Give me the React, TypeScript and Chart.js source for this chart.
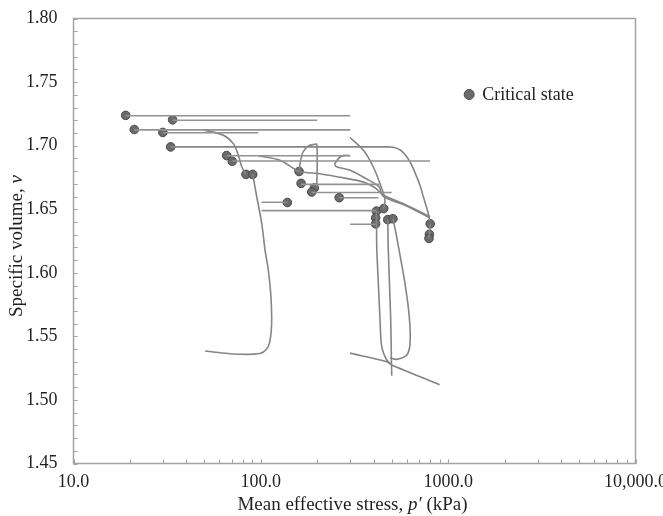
import { useEffect, useRef } from "react";
import { Chart, registerables } from "chart.js";

Chart.register(...registerables);

type Pt = [number, number];

// Critical-state points: mean effective stress p' (kPa) and specific volume v
const criticalP = [19.0, 33.8, 21.1, 30.0, 33.0, 65.7, 70.4, 83.3, 90.5, 160, 164, 193, 187, 138.5, 262, 414, 453, 410, 410, 476, 507, 802, 794, 790];
const criticalV = [1.7238, 1.7203, 1.7127, 1.7104, 1.6990, 1.6922, 1.6877, 1.6774, 1.6774, 1.6797, 1.6703, 1.6667, 1.6635, 1.6553, 1.6591, 1.6485, 1.6505, 1.6432, 1.6385, 1.6418, 1.6425, 1.6385, 1.6303, 1.6270];

// Stress paths (p' kPa, v)
const pathA: Pt[] = [[19.0, 1.7235], [300, 1.7235]];
const pathB: Pt[] = [[33.8, 1.7200], [200, 1.7200]];
const pathC: Pt[] = [[21.1, 1.7124], [300, 1.7124]];
const pathD: Pt[] = [[30.0, 1.7101], [97, 1.7101]];
const pathE: Pt[] = [[33.0, 1.6990], [470, 1.6990], [510, 1.6987], [560, 1.6962], [601, 1.6912], [640, 1.6845], [679, 1.6756], [710, 1.6680], [737, 1.6598], [765, 1.6520], [783, 1.6468], [800, 1.6410]];
const pathF: Pt[] = [[65.7, 1.6920], [300, 1.6920]];
const pathF2: Pt[] = [[300, 1.6923], [270, 1.6918], [249, 1.6860], [252, 1.6836], [300, 1.6806], [367, 1.6738], [427, 1.6678], [449, 1.6604], [600, 1.6525], [790, 1.6435]];
const pathG: Pt[] = [[70.4, 1.6879], [800, 1.6879]];
const pathH: Pt[] = [[49.7, 1.7124], [63.1, 1.7082], [71.3, 1.7016], [75.8, 1.6926], [79.1, 1.6834], [83.3, 1.6774]];
const pathI: Pt[] = [[90.5, 1.6774], [95.1, 1.6598], [101.1, 1.6389], [105.3, 1.6179], [109.6, 1.6022], [112.9, 1.5839], [114.3, 1.5655], [113.6, 1.5540], [111.5, 1.5455], [107.5, 1.5400], [99.0, 1.5365], [77.4, 1.5359], [60.5, 1.5371], [50.4, 1.5385]];
const pathJ: Pt[] = [[101, 1.6555], [138.5, 1.6555]];
const pathK: Pt[] = [[101, 1.6489], [414, 1.6489]];
const pathL: Pt[] = [[160, 1.6797], [163, 1.6880], [168, 1.6950], [178, 1.6995], [190, 1.7008], [199, 1.7008], [199, 1.6668]];
const pathM: Pt[] = [[164, 1.6695], [430, 1.6695]];
const pathN: Pt[] = [[187, 1.6632], [500, 1.6632]];
const pathO: Pt[] = [[262, 1.6590], [424, 1.6590]];
const pathP: Pt[] = [[300, 1.6382], [410, 1.6382]];
const pathQ: Pt[] = [[299, 1.7064], [352, 1.6966], [398, 1.6834], [442, 1.6664], [460, 1.6572], [453, 1.6505]];
const pathR: Pt[] = [[97, 1.6920], [126.6, 1.6886], [149, 1.6822], [160, 1.6797], [210, 1.6777], [265, 1.6751], [330, 1.6725], [367, 1.6704], [410, 1.6665], [450, 1.6612], [600, 1.6532], [780, 1.6450], [800, 1.6440]];
const pathT: Pt[] = [[414, 1.6485], [415, 1.6300], [416, 1.6179], [424, 1.5917], [432, 1.5655], [442, 1.5419], [470, 1.5314], [500, 1.5275]];
const pathU: Pt[] = [[476, 1.6418], [479, 1.6179], [493, 1.5655], [498, 1.5300], [500, 1.5190]];
const pathV: Pt[] = [[507, 1.6425], [525, 1.6320], [547, 1.6179], [588, 1.5917], [620, 1.5655], [626, 1.5445], [601, 1.5353], [531, 1.5319], [490, 1.5330]];
const pathW: Pt[] = [[299, 1.5368], [470, 1.5301], [500, 1.5275], [900, 1.5120]];
const pathX: Pt[] = [[802, 1.6385], [794, 1.6303], [790, 1.6270]];

const flatPaths = [pathA, pathB, pathC, pathD, pathF, pathG, pathJ, pathK, pathM, pathN, pathO, pathP];
const curvedPaths = [pathE, pathF2, pathH, pathI, pathL, pathQ, pathR, pathT, pathU, pathV, pathW, pathX];

// Axis ticks
const yTicks = [1.45, 1.5, 1.55, 1.6, 1.65, 1.7, 1.75, 1.8];
const xTicks = [10, 100, 1000, 10000];
const xTickLabels = ["10.0", "100.0", "1000.0", "10,000.0"];
const legendLabel = "Critical state";

const SERIF = "'Liberation Serif', 'Times New Roman', serif";
const TEXT = "#231f20";
const AXIS = "#a3a3a3";

const toXY = (p: Pt[]) => p.map(([x, y]) => ({ x, y }));

const decorations = {
  id: "decorations",
  beforeDatasetsDraw(chart: any) {
    const { ctx, chartArea: a, scales } = chart;
    const xs = scales.x;
    const ys = scales.y;
    ctx.save();
    ctx.strokeStyle = AXIS;
    ctx.lineWidth = 1.5;
    ctx.strokeRect(a.left, a.top, a.right - a.left, a.bottom - a.top);
    ctx.lineWidth = 1;
    // inward minor ticks on the left axis
    for (let i = 0; i <= 35; i++) {
      const v = 1.45 + i * 0.01;
      const py = Math.round(ys.getPixelForValue(v)) + 0.5;
      ctx.beginPath();
      ctx.moveTo(a.left, py);
      ctx.lineTo(a.left + 4, py);
      ctx.stroke();
    }
    // inward log ticks on the bottom axis
    for (const d of [10, 100, 1000]) {
      for (let k = 1; k <= 10; k++) {
        const px = Math.round(xs.getPixelForValue(d * k)) + 0.5;
        ctx.beginPath();
        ctx.moveTo(px, a.bottom);
        ctx.lineTo(px, a.bottom - 4);
        ctx.stroke();
      }
    }
    ctx.restore();
  },
  afterDraw(chart: any) {
    const { ctx, chartArea: a } = chart;
    ctx.save();
    ctx.fillStyle = TEXT;
    ctx.textBaseline = "middle";

    // x-axis title with italic p′
    const normal = `19px ${SERIF}`;
    const italic = `italic 19px ${SERIF}`;
    const parts: [string, string][] = [["Mean effective stress, ", normal], ["p′", italic], [" (kPa)", normal]];
    let total = 0;
    for (const [t, f] of parts) { ctx.font = f; total += ctx.measureText(t).width; }
    let x = (a.left + a.right) / 2 - total / 2 - 2;
    ctx.textAlign = "left";
    for (const [t, f] of parts) { ctx.font = f; ctx.fillText(t, x, 505); x += ctx.measureText(t).width; }

    // y-axis title with italic ν
    const yparts: [string, string][] = [["Specific volume, ", normal], ["ν", italic]];
    total = 0;
    for (const [t, f] of yparts) { ctx.font = f; total += ctx.measureText(t).width; }
    ctx.translate(17, (a.top + a.bottom) / 2 + 5);
    ctx.rotate(-Math.PI / 2);
    x = -total / 2;
    for (const [t, f] of yparts) { ctx.font = f; ctx.fillText(t, x, 0); x += ctx.measureText(t).width; }
    ctx.setTransform(1, 0, 0, 1, 0, 0);

    // legend
    const lx = a.left + (a.right - a.left) * 0.704;
    const ly = a.top + 76;
    ctx.beginPath();
    ctx.arc(lx, ly, 5, 0, Math.PI * 2);
    ctx.fillStyle = "#6b6b6b";
    ctx.fill();
    ctx.strokeStyle = "#4a4a4a";
    ctx.lineWidth = 1;
    ctx.stroke();
    ctx.fillStyle = TEXT;
    ctx.font = `18px ${SERIF}`;
    ctx.fillText(legendLabel, lx + 13, ly + 1);
    ctx.restore();
  },
};

export default function App() {
  const ref = useRef<HTMLCanvasElement>(null);

  useEffect(() => {
    if (!ref.current) return;
    const datasets: any[] = [];
    for (const p of flatPaths) {
      datasets.push({ data: toXY(p), showLine: true, borderColor: "#929292", borderWidth: 1.6, pointRadius: 0, tension: 0 });
    }
    for (const p of curvedPaths) {
      datasets.push({ data: toXY(p), showLine: true, borderColor: "#858585", borderWidth: 1.6, pointRadius: 0, tension: 0.3 });
    }
    datasets.push({
      label: legendLabel,
      data: criticalP.map((x, i) => ({ x, y: criticalV[i] })),
      showLine: false,
      pointRadius: 4.3,
      pointBackgroundColor: "#6b6b6b",
      pointBorderColor: "#484848",
      pointBorderWidth: 1,
    });

    const chart = new Chart(ref.current, {
      type: "scatter",
      data: { datasets },
      plugins: [decorations],
      options: {
        responsive: false,
        animation: false,
        events: [],
        layout: { padding: { left: 0, right: 27.5, top: 18.5, bottom: 0 } },
        plugins: { legend: { display: false }, tooltip: { enabled: false } },
        scales: {
          x: {
            type: "logarithmic",
            min: 10,
            max: 10000,
            grid: { display: false },
            border: { display: false },
            afterBuildTicks: (s: any) => { s.ticks = xTicks.map((value) => ({ value })); },
            afterFit: (s: any) => { s.height = 52.5; s.paddingLeft = 0; s.paddingRight = 0; },
            ticks: {
              autoSkip: false,
              maxRotation: 0,
              minRotation: 0,
              padding: 0,
              color: TEXT,
              font: { family: SERIF, size: 18 },
              callback: (v: any) => xTickLabels[xTicks.indexOf(Number(v))] ?? "",
            },
          },
          y: {
            type: "linear",
            min: 1.45,
            max: 1.8,
            grid: { display: false },
            border: { display: false },
            afterBuildTicks: (s: any) => { s.ticks = yTicks.map((value) => ({ value })); },
            afterFit: (s: any) => { s.width = 73.5; s.paddingTop = 0; s.paddingBottom = 0; },
            ticks: {
              autoSkip: false,
              padding: 8,
              color: TEXT,
              font: { family: SERIF, size: 18 },
              callback: (v: any) => Number(v).toFixed(2),
            },
          },
        },
      } as any,
    });
    return () => chart.destroy();
  }, []);

  return (
    <div style={{ position: "fixed", left: 0, top: 0, width: 663, height: 516, background: "#fff" }}>
      <canvas ref={ref} width={663} height={516} style={{ display: "block" }} />
    </div>
  );
}
